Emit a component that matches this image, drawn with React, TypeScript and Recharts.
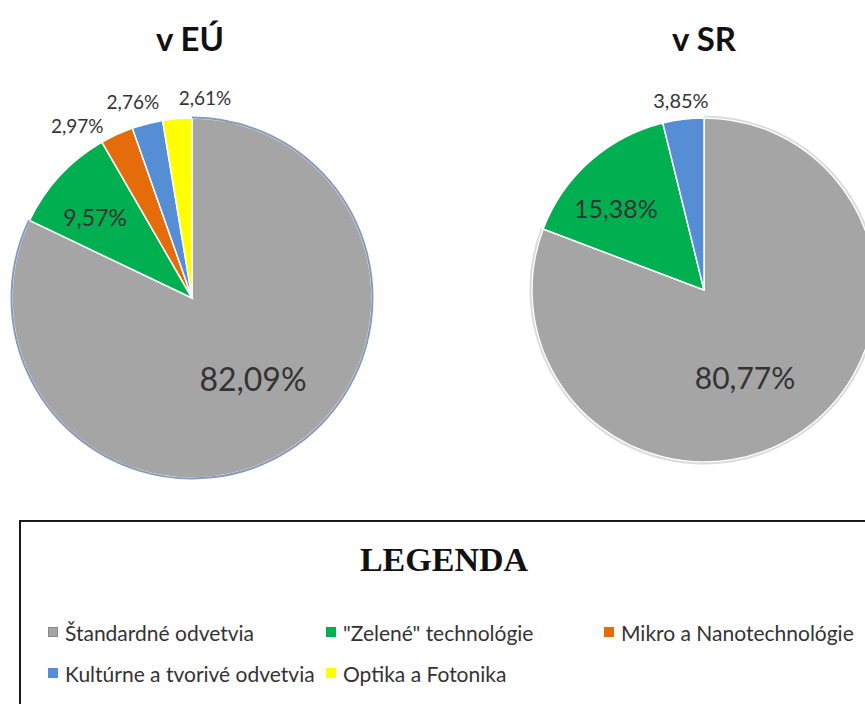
import React from 'react';
import { PieChart, Pie, Cell } from 'recharts';

// categories shared by both pies and the legend
const CATEGORIES = [
  'Štandardné odvetvia',
  '"Zelené" technológie',
  'Mikro a Nanotechnológie',
  'Kultúrne a tvorivé odvetvia',
  'Optika a Fotonika',
];
const CATEGORY_COLORS = ['#a5a5a5', '#00b050', '#e46c0a', '#558ed5', '#ffff00'];

// v EÚ
const EU_CATEGORIES = [0, 1, 2, 3, 4];
const EU_VALUES = [82.09, 9.57, 2.97, 2.76, 2.61];

// v SR
const SR_CATEGORIES = [0, 1, 3];
const SR_VALUES = [80.77, 15.38, 3.85];

const LEGEND_ROWS = [
  [0, 1, 2],
  [3, 4],
];

const FONT = 'Lato, "Open Sans", sans-serif';
const RAD = Math.PI / 180;

// Excel moved some labels around to avoid collisions: angle shift (deg, clockwise) and distance
type Spot = { shift: number; dist: number; size: number };
const EU_SPOTS: Spot[] = [
  { shift: -5, dist: 0.56, size: 32 },
  { shift: -3, dist: 0.7, size: 23 },
  { shift: -9, dist: 27, size: 19 },
  { shift: -2.4, dist: 25, size: 19 },
  { shift: 8.4, dist: 21, size: 19 },
];
const SR_SPOTS: Spot[] = [
  { shift: 9.4, dist: 0.56, size: 30 },
  { shift: -5.5, dist: 0.7, size: 25 },
  { shift: 0, dist: 19, size: 20 },
];

const fmt = (v: number) => `${v.toFixed(2).replace('.', ',')}%`;

function makeLabel(spots: Spot[]) {
  return (props: any) => {
    const { cx, cy, midAngle, outerRadius, index } = props;
    const value = props.value ?? props.payload?.value;
    const spot = spots[index];
    const r = spot.dist < 1 ? outerRadius * spot.dist : outerRadius + spot.dist;
    const a = (midAngle - spot.shift) * RAD;
    const x = cx + r * Math.cos(a);
    const y = cy - r * Math.sin(a);
    return (
      <text
        x={x}
        y={y}
        textAnchor="middle"
        dominantBaseline="central"
        fill="#333"
        fontFamily={FONT}
        fontSize={spot.size}
      >
        {fmt(value)}
      </text>
    );
  };
}

const euData = EU_CATEGORIES.map((c, i) => ({ name: CATEGORIES[c], value: EU_VALUES[i], color: CATEGORY_COLORS[c] }));
const srData = SR_CATEGORIES.map((c, i) => ({ name: CATEGORIES[c], value: SR_VALUES[i], color: CATEGORY_COLORS[c] }));

const titleStyle: React.CSSProperties = {
  position: 'absolute',
  top: 19,
  width: 160,
  textAlign: 'center',
  fontFamily: FONT,
  fontWeight: 700,
  fontSize: 33,
  lineHeight: '38px',
  color: '#111',
};

export default function App() {
  return (
    <div style={{ position: 'absolute', left: 0, top: 0, width: 865, height: 704, overflow: 'hidden', background: '#fff' }}>
      <PieChart width={900} height={704} margin={{ top: 0, right: 0, bottom: 0, left: 0 }}>
        {/* EU pie */}
        <Pie
          data={euData}
          dataKey="value"
          cx={192}
          cy={298}
          outerRadius={180}
          startAngle={90}
          endAngle={-270}
          stroke="#fff"
          strokeWidth={1.5}
          label={makeLabel(EU_SPOTS)}
          labelLine={false}
          isAnimationActive={false}
        >
          {euData.map((d) => (
            <Cell key={d.name} fill={d.color} />
          ))}
        </Pie>
        {/* outline of the big slice */}
        <Pie
          data={euData}
          dataKey="value"
          cx={192}
          cy={298}
          innerRadius={180.5}
          outerRadius={180.5}
          startAngle={90}
          endAngle={-270}
          fill="none"
          legendType="none"
          isAnimationActive={false}
        >
          {euData.map((d, i) => (
            <Cell key={d.name} fill="none" stroke={i === 0 ? '#8799ba' : 'none'} strokeWidth={2} />
          ))}
        </Pie>

        {/* SR pie */}
        <Pie
          data={srData}
          dataKey="value"
          cx={704}
          cy={290}
          outerRadius={172}
          startAngle={90}
          endAngle={-270}
          stroke="#fff"
          strokeWidth={1.5}
          label={makeLabel(SR_SPOTS)}
          labelLine={false}
          isAnimationActive={false}
        >
          {srData.map((d) => (
            <Cell key={d.name} fill={d.color} />
          ))}
        </Pie>
        <Pie
          data={srData}
          dataKey="value"
          cx={704}
          cy={290}
          innerRadius={173.5}
          outerRadius={173.5}
          startAngle={90}
          endAngle={-270}
          fill="none"
          legendType="none"
          isAnimationActive={false}
        >
          {srData.map((d, i) => (
            <Cell key={d.name} fill="none" stroke={i === 0 ? '#dcdcdc' : 'none'} strokeWidth={2} />
          ))}
        </Pie>
      </PieChart>

      <div style={{ ...titleStyle, left: 110 }}>v EÚ</div>
      <div style={{ ...titleStyle, left: 624 }}>v SR</div>

      {/* legend box, its bottom edge runs past the picture */}
      <div
        style={{
          position: 'absolute',
          left: 19,
          top: 520,
          width: 850,
          height: 200,
          border: '2px solid #1a1a1a',
          background: '#fff',
          boxSizing: 'border-box',
        }}
      >
        <div
          style={{
            position: 'absolute',
            left: 0,
            width: 846,
            top: 18,
            textAlign: 'center',
            fontFamily: '"Liberation Serif", "Times New Roman", serif',
            fontWeight: 700,
            fontSize: 34,
            lineHeight: '40px',
            color: '#111',
          }}
        >
          LEGENDA
        </div>
        {LEGEND_ROWS.map((row, r) =>
          row.map((c, k) => (
            <div
              key={c}
              style={{
                position: 'absolute',
                left: 27 + k * 278,
                top: 98 + r * 41,
                height: 24,
                display: 'flex',
                alignItems: 'center',
                whiteSpace: 'nowrap',
                fontFamily: FONT,
                fontSize: 21,
                color: '#333',
              }}
            >
              <span style={{ width: 10, height: 10, background: CATEGORY_COLORS[c], marginRight: 7, border: c === 0 ? '1px solid #8a8a8a' : 'none', boxSizing: 'border-box' }} />
              {CATEGORIES[c]}
            </div>
          )),
        )}
      </div>
    </div>
  );
}
